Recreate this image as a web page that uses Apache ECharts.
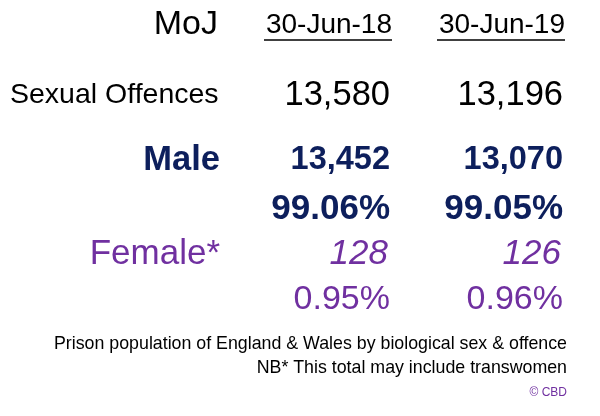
<!DOCTYPE html>
<html><head><meta charset="utf-8">
<script src="https://cdn.jsdelivr.net/npm/echarts@6/dist/echarts.min.js"></script>
<style>html,body{margin:0;padding:0;background:#fff}#c{width:600px;height:416px}</style>
</head><body><div id="c"></div>
<script>
const source = "MoJ";
const dates = ["30-Jun-18", "30-Jun-19"];
const totalLabel = "Sexual Offences";
const totals = ["13,580", "13,196"];
const maleLabel = "Male";
const maleCounts = ["13,452", "13,070"];
const malePct = ["99.06%", "99.05%"];
const femaleLabel = "Female*";
const femaleCounts = ["128", "126"];
const femalePct = ["0.95%", "0.96%"];
const notes = ["Prison population of England & Wales by biological sex & offence", "NB* This total may include transwomen"];
const credit = "© CBD";

const F = 'Liberation Sans, Arial, sans-serif';
const NAVY = '#0d1f5c', PURPLE = '#7030a0';
const colX = [392, 565];
const els = [];
function t(x, y, text, size, opts) {
  opts = opts || {};
  els.push({type:'text', x, y, style:{text, font:(opts.italic?'italic ':'')+(opts.bold?'bold ':'')+size+'px '+F,
    fill:opts.fill||'#000', textAlign:opts.align||'right', textVerticalAlign:'middle'}});
}
t(218, 25, source, 34);
dates.forEach((d,i)=>{
  t(colX[i], 25, d, 28);
  els.push({type:'line', shape:{x1:colX[i]-128,y1:40,x2:colX[i],y2:40}, style:{stroke:'#000',lineWidth:1.5}});
});
t(10, 95, totalLabel, 28.5, {align:'left'});
totals.forEach((v,i)=>t(colX[i]-2, 95, v, 34.5));
t(220, 160, maleLabel, 34.5, {bold:true, fill:NAVY});
maleCounts.forEach((v,i)=>t(colX[i]-2, 160, v, 32.5, {bold:true, fill:NAVY}));
malePct.forEach((v,i)=>t(colX[i]-2, 209, v, 35, {bold:true, fill:NAVY}));
t(220, 254, femaleLabel, 35, {fill:PURPLE});
femaleCounts.forEach((v,i)=>t(colX[i]-4, 254, v, 35, {italic:true, fill:PURPLE}));
femalePct.forEach((v,i)=>t(colX[i]-2, 300, v, 34, {fill:PURPLE}));
t(567, 344, notes[0], 17.8);
t(567, 368, notes[1], 17.8);
t(567, 393, credit, 12, {fill:PURPLE});

const chart = echarts.init(document.getElementById('c'));
chart.setOption({animation:false, graphic:{elements:els}});
</script></body></html>
